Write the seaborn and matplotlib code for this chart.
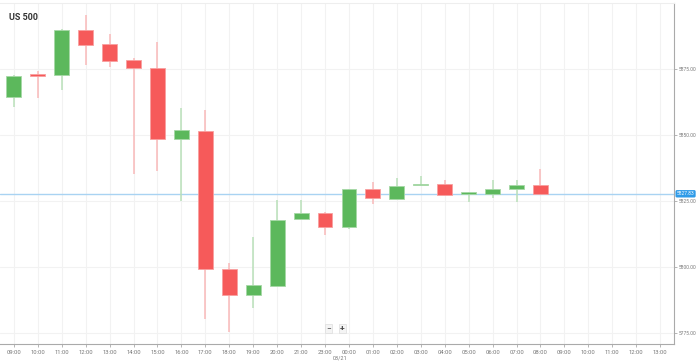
import matplotlib
matplotlib.use("Agg")
import matplotlib.pyplot as plt
import seaborn as sns
import numpy as np

times = ["09:00", "10:00", "11:00", "12:00", "13:00", "14:00", "15:00", "16:00",
         "17:00", "18:00", "19:00", "20:00", "21:00", "23:00", "00:00", "01:00",
         "02:00", "03:00", "04:00", "05:00", "06:00", "07:00", "08:00", "09:00",
         "10:00", "11:00", "12:00", "13:00"]
opens = [5864.6, 5872.9, 5872.7, 5889.8, 5884.5, 5878.5, 5875.5, 5848.4, 5851.7,
         5799.5, 5789.5, 5793.0, 5818.1, 5820.4, 5815.1, 5829.5, 5826.0, 5831.0,
         5831.7, 5827.8, 5827.6, 5829.5, 5831.3]
highs = [5872.7, 5874.2, 5890.0, 5895.6, 5888.4, 5879.2, 5885.3, 5860.4, 5859.6,
         5801.7, 5811.5, 5825.6, 5825.6, 5821.0, 5829.8, 5832.1, 5833.9, 5834.4,
         5832.9, 5828.5, 5833.2, 5833.2, 5837.3]
lows = [5860.8, 5864.2, 5867.2, 5876.7, 5875.7, 5835.2, 5836.4, 5825.0, 5780.4,
        5775.7, 5784.5, 5793.0, 5818.1, 5812.2, 5814.4, 5823.8, 5826.0, 5831.0,
        5827.5, 5824.7, 5826.4, 5824.7, 5827.83]
closes = [5872.5, 5872.5, 5889.8, 5884.1, 5878.2, 5875.5, 5848.4, 5852.1, 5799.2,
          5789.6, 5793.3, 5817.9, 5820.7, 5815.2, 5829.8, 5826.4, 5830.8, 5831.5,
          5827.5, 5828.0, 5829.8, 5831.0, 5827.83]
y_ticks = [5775, 5800, 5825, 5850, 5875]
current_price = 5827.83
title = "US 500"
date_label = "03/21"

sns.set_theme(style="white")
plt.rcParams['font.family'] = ['Roboto', 'DejaVu Sans']

fig = plt.figure(figsize=(6.99, 3.64), dpi=100)
ax = fig.add_axes([0.0, 20 / 364, 674 / 699, 341 / 364])

GREEN = "#5cb85c"
RED = "#f65a5a"
GREEN_W = "#b9e0b9"
RED_W = "#f9b9b9"

x = np.arange(len(opens))
o = np.array(opens); c = np.array(closes)
up = c >= o
bottom = np.minimum(o, c)
height = np.maximum(np.abs(c - o), 0.55)

# wicks
ax.vlines(x[up], np.array(lows)[up], np.array(highs)[up], color=GREEN_W, lw=1.1, zorder=2)
ax.vlines(x[~up], np.array(lows)[~up], np.array(highs)[~up], color=RED_W, lw=1.1, zorder=2)
# bodies
ax.bar(x[up], height[up], bottom=bottom[up], width=0.62, color=GREEN,
       edgecolor="#a6d8a6", linewidth=0.6, zorder=3)
ax.bar(x[~up], height[~up], bottom=bottom[~up], width=0.62, color=RED,
       edgecolor="#f8a0a0", linewidth=0.6, zorder=3)

# current price line
ax.axhline(current_price, color="#a9d3f2", lw=1.0, zorder=1)

ax.set_xlim(-0.58, len(times) - 0.42)
ax.set_ylim(5771.0, 5900.0)

ax.set_xticks(np.arange(len(times)))
ax.set_xticklabels(times, fontsize=4.2, color="#777777")
ax.set_yticks(y_ticks)
ax.set_yticklabels([f"{v:.2f}" for v in y_ticks], fontsize=3.5, color="#777777")
ax.yaxis.tick_right()
ax.tick_params(axis="x", length=2.5, width=0.5, color="#999999", pad=2, bottom=True)
ax.tick_params(axis="y", length=2.0, width=0.5, color="#999999", pad=1.2,
               right=True, left=False)

ax.grid(True, color="#f2f2f2", lw=0.8, zorder=0)
ax.set_axisbelow(True)
ax.spines["left"].set_visible(False)
ax.spines["top"].set_color("#eeeeee")
ax.spines["top"].set_linewidth(0.8)
ax.spines["right"].set_color("#aaaaaa")
ax.spines["bottom"].set_color("#aaaaaa")
ax.spines["right"].set_linewidth(0.8)
ax.spines["bottom"].set_linewidth(0.8)

# title
ax.text(0.013, 0.97, title, transform=ax.transAxes, fontsize=6.5, fontweight="bold",
        color="#333333", va="top", ha="left")

# date label under 00:00
idx0 = times.index("00:00")
ax.text(idx0 - 0.05, -0.033, date_label, transform=ax.get_xaxis_transform(), fontsize=4.0,
        color="#777777", ha="right", va="top")

# current price badge
ax.text(1.004, current_price, f"{current_price:.2f}", transform=ax.get_yaxis_transform(),
        fontsize=3.5, color="white", ha="left", va="center",
        bbox=dict(boxstyle="round,pad=0.25,rounding_size=0.3", fc="#2f9be8", ec="none"))

# zoom buttons
ax.text(0.487, 0.045, "\u2212", transform=ax.transAxes, fontsize=6, color="#444444",
        ha="center", va="center",
        bbox=dict(boxstyle="square,pad=0.15", fc="#f4f4f4", ec="#dddddd", lw=0.5))
ax.text(0.508, 0.045, "+", transform=ax.transAxes, fontsize=6, color="#444444",
        ha="center", va="center", fontweight="bold",
        bbox=dict(boxstyle="square,pad=0.15", fc="#f4f4f4", ec="#dddddd", lw=0.5))

fig.savefig("out.png", dpi=100)
